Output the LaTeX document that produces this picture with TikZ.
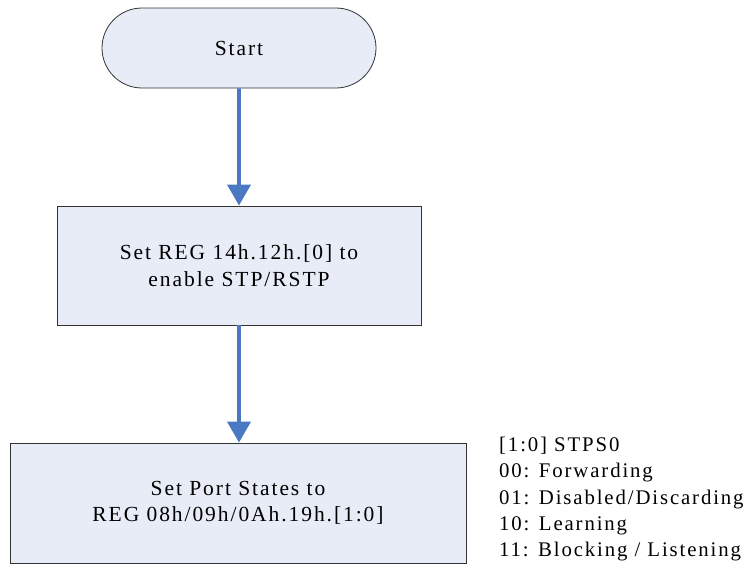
\documentclass[tikz,border=0pt]{standalone}
\usepackage{fontspec}
\setmainfont{Liberation Serif}[LetterSpace=9]
\usetikzlibrary{arrows.meta,shapes.misc}
\definecolor{boxfill}{HTML}{E7ECF7}
\definecolor{arrowblue}{HTML}{4A78C2}
\tikzset{
  x=1pt,y=-1pt,
  every node/.style={font=\fontsize{21.5}{26.5}\selectfont},
  flowbox/.style={draw=black!80,line width=0.8pt,fill=boxfill,align=center,inner sep=0pt},
  startbox/.style={flowbox,rounded rectangle,minimum width=274pt,minimum height=80pt},
  flow/.style={draw=arrowblue,line width=3.8pt,-{Triangle[width=23pt,length=21pt]}}
}
\begin{document}
\begin{tikzpicture}
\useasboundingbox (0,0) rectangle (753,568);
\node[startbox] (start) at (239,48) {Start};
\node[flowbox,minimum width=364pt,minimum height=119pt] (reg) at (239,265.5) {Set REG 14h.12h.[0] to\\enable STP/RSTP};
\node[flowbox,minimum width=456pt,minimum height=120pt] (port) at (238,503) {Set Port States to\\REG 08h/09h/0Ah.19h.[1:0]};
\node[anchor=north west,align=left,inner sep=0pt,font=\fontsize{20.8}{26.3}\selectfont] (legend) at (499,437) {[1:0] STPS0\\00: Forwarding\\01: Disabled/Discarding\\10: Learning\\11: Blocking / Listening};
\draw[flow] (start) -- (reg);
\draw[flow] (reg.south) -- (reg.south |- port.north);
\end{tikzpicture}
\end{document}
